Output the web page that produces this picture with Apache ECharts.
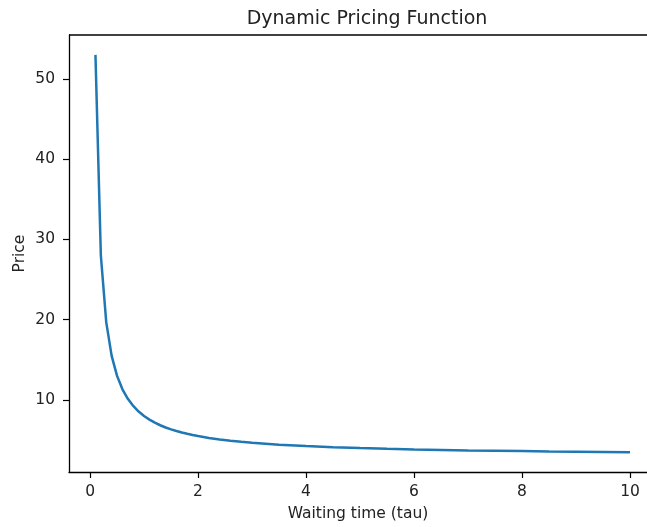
<!DOCTYPE html>
<html>
<head>
<meta charset="utf-8">
<script src="https://cdn.jsdelivr.net/npm/echarts@6/dist/echarts.min.js"></script>
<style>
	html, body { margin: 0; padding: 0; background: #fff; }
	#chart { width: 647px; height: 527px; }
</style>
</head>
<body>
<div id="chart"></div>
<script>
// waiting time (tau) and price
var tau = [0.1, 0.2, 0.3, 0.4, 0.5, 0.6, 0.7, 0.8, 0.9, 1.0,
	1.1, 1.2, 1.3, 1.4, 1.5, 1.6, 1.7, 1.8, 1.9, 2.0,
	2.2, 2.4, 2.6, 2.8, 3.0, 3.5, 4.0, 4.5, 5.0, 5.5,
	6.0, 6.5, 7.0, 7.5, 8.0, 8.5, 9.0, 9.5, 10.0];
var price = [53, 28, 19.67, 15.5, 13, 11.33, 10.14, 9.25, 8.56, 8,
	7.55, 7.17, 6.85, 6.57, 6.33, 6.13, 5.94, 5.78, 5.63, 5.5,
	5.27, 5.08, 4.92, 4.79, 4.67, 4.43, 4.25, 4.11, 4.0, 3.91,
	3.83, 3.77, 3.71, 3.67, 3.63, 3.59, 3.56, 3.53, 3.5];
var xTicks = [0, 2, 4, 6, 8, 10];
var yTicks = [10, 20, 30, 40, 50];

var font = 'DejaVu Sans';
var ink = '#222';
var points = tau.map(function (t, i) { return [t, price[i]]; });

var chart = echarts.init(document.getElementById('chart'));
chart.setOption({
	animation: false,
	title: {
		text: 'Dynamic Pricing Function',
		left: 362,
		top: 5,
		textAlign: 'center',
		textStyle: { fontFamily: font, fontSize: 19, fontWeight: 'normal', color: ink }
	},
	// the axes box runs past the right edge of the picture
	grid: { left: 69, top: 35, bottom: 54, right: 0 },
	xAxis: {
		type: 'value',
		min: -0.39,
		max: 10.315,
		name: 'Waiting time (tau)',
		nameLocation: 'middle',
		nameGap: 34,
		nameTextStyle: { fontFamily: font, fontSize: 15.5, color: ink },
		axisLine: { show: true, onZero: false, lineStyle: { color: '#000', width: 1.3 } },
		axisTick: { show: true, length: 6, customValues: xTicks, lineStyle: { color: '#000', width: 1.2 } },
		axisLabel: { customValues: xTicks, margin: 12, fontFamily: font, fontSize: 15.5, color: ink },
		splitLine: { show: false }
	},
	yAxis: {
		type: 'value',
		min: 1.025,
		max: 55.475,
		name: 'Price',
		nameLocation: 'middle',
		nameGap: 41,
		nameMoveOverlap: false,
		nameTextStyle: { fontFamily: font, fontSize: 15.5, color: ink },
		axisLine: { show: true, onZero: false, lineStyle: { color: '#000', width: 1.3 } },
		axisTick: { show: true, length: 6, customValues: yTicks, lineStyle: { color: '#000', width: 1.2 } },
		axisLabel: { customValues: yTicks, margin: 14, fontFamily: font, fontSize: 15.5, color: ink },
		splitLine: { show: false }
	},
	series: [{
		type: 'line',
		data: points,
		showSymbol: false,
		smooth: false,
		lineStyle: { color: '#1f77b4', width: 2.5 },
		itemStyle: { color: '#1f77b4' }
	}]
});

// top spine of the axes box
chart.setOption({
	graphic: [{
		type: 'line',
		shape: { x1: 69, y1: 35, x2: 647, y2: 35 },
		style: { stroke: '#000', lineWidth: 1.3 }
	}]
});
</script>
</body>
</html>
